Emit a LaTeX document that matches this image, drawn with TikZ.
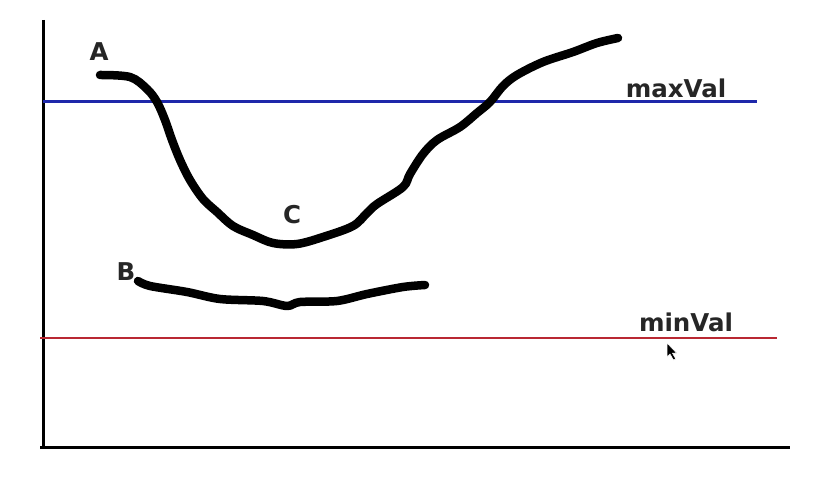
\documentclass[tikz,border=0pt]{standalone}
\usepackage{fontspec}
\setmainfont{DejaVu Sans}
\begin{document}
\begin{tikzpicture}[x=1pt,y=-1pt,
  lbl/.style={font=\fontsize{24.5}{26}\selectfont\bfseries, text=black!85, inner sep=0pt},
  axisline/.style={line width=3pt, black},
  curve/.style={line width=8.5pt, black, line cap=round, line join=round},
  maxline/.style={line width=2.6pt, color={rgb,255:red,30;green,40;blue,170}},
  minline/.style={line width=2.8pt, color={rgb,255:red,185;green,40;blue,50}}]
\useasboundingbox[fill=white] (0,0) rectangle (831,484);
% axes
\coordinate (ytop) at (43,20);
\coordinate (origin) at (43,447);
\coordinate (xend) at (790,447);
\draw[axisline] (ytop) -- (origin);
\draw[axisline] (40,447) -- (xend);
% threshold lines
\coordinate (maxL) at (43,101.5);
\coordinate (maxR) at (757,101.5);
\coordinate (minL) at (40,338);
\coordinate (minR) at (777,338);
\draw[maxline] (maxL) -- (maxR);
\draw[minline] (minL) -- (minR);
% labels
\node[lbl] (A) at (99,52) {A};
\node[lbl] (C) at (292,215) {C};
\node[lbl] (B) at (126,272) {B};
\node[lbl] (maxVal) at (676,88) {maxVal};
\node[lbl] (minVal) at (686,322) {minVal};
% curve A-C
\draw[curve] plot[smooth, tension=0.55] coordinates {
 (100,75) (130,77) (147,89) (157,102) (165,120) (172,140) (180,160) (190,180)
 (203,199) (217,212) (233,226) (253,235) (273,243) (297,244) (323,237)
 (353,226) (367,213) (377,204) (403,187) (410,174) (423,154) (437,140)
 (460,127) (477,113) (490,102) (503,86) (517,75) (543,62) (573,52) (597,43) (618,38)};
% curve B
\draw[curve] plot[smooth, tension=0.5] coordinates {
 (138,281) (150,286) (187,292) (220,299) (263,301) (287,306) (300,302)
 (337,301) (367,294) (403,287) (425,285)};
% mouse pointer
\coordinate (tip) at (667,343);
\filldraw[black, draw=white, line width=0.5pt] (tip) -- ++(0,14) -- ++(3,-3) -- ++(3.5,6) -- ++(2.2,-1.1) -- ++(-3.3,-5.8) -- ++(4.2,0) -- cycle;
\end{tikzpicture}
\end{document}
